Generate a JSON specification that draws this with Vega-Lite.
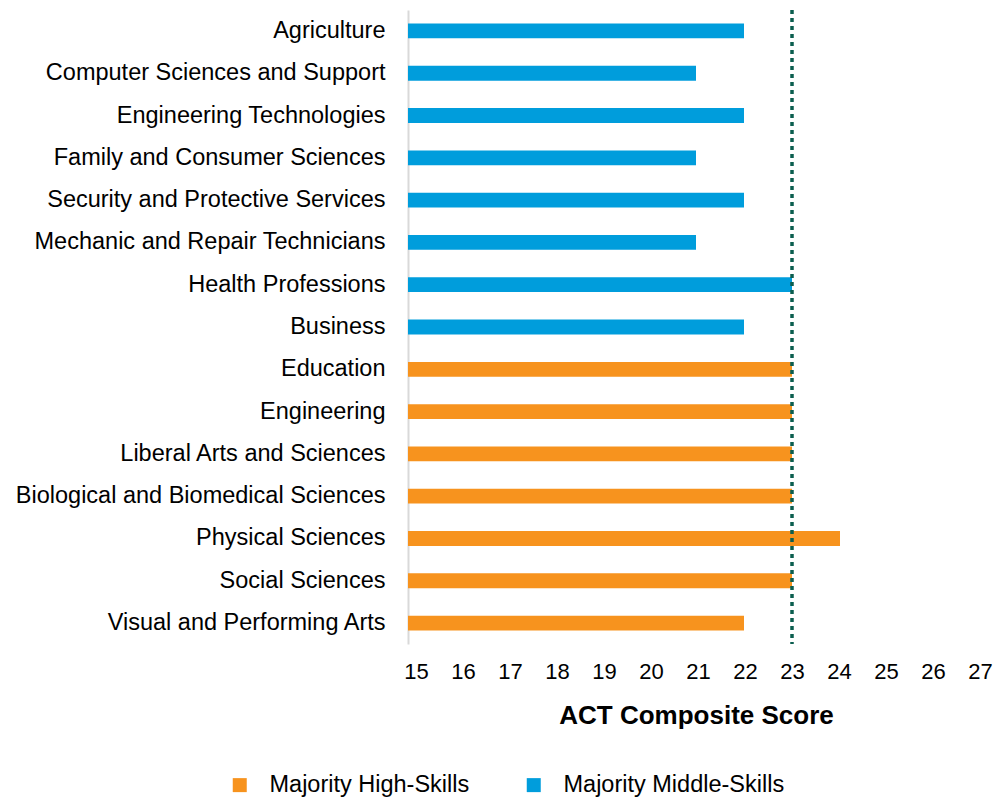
{
  "$schema": "https://vega.github.io/schema/vega-lite/v6.json",
  "width": 576,
  "height": 634,
  "autosize": "none",
  "padding": {"left": 408, "top": 10, "right": 11, "bottom": 156},
  "background": "white",
  "config": {
    "view": {"stroke": null},
    "font": "Liberation Sans"
  },
  "layer": [
    {
      "data": {
        "values": [
          {"field": "Agriculture", "score": 22, "group": "Majority Middle-Skills"},
          {"field": "Computer Sciences and Support", "score": 21, "group": "Majority Middle-Skills"},
          {"field": "Engineering Technologies", "score": 22, "group": "Majority Middle-Skills"},
          {"field": "Family and Consumer Sciences", "score": 21, "group": "Majority Middle-Skills"},
          {"field": "Security and Protective Services", "score": 22, "group": "Majority Middle-Skills"},
          {"field": "Mechanic and Repair Technicians", "score": 21, "group": "Majority Middle-Skills"},
          {"field": "Health Professions", "score": 23, "group": "Majority Middle-Skills"},
          {"field": "Business", "score": 22, "group": "Majority Middle-Skills"},
          {"field": "Education", "score": 23, "group": "Majority High-Skills"},
          {"field": "Engineering", "score": 23, "group": "Majority High-Skills"},
          {"field": "Liberal Arts and Sciences", "score": 23, "group": "Majority High-Skills"},
          {"field": "Biological and Biomedical Sciences", "score": 23, "group": "Majority High-Skills"},
          {"field": "Physical Sciences", "score": 24, "group": "Majority High-Skills"},
          {"field": "Social Sciences", "score": 23, "group": "Majority High-Skills"},
          {"field": "Visual and Performing Arts", "score": 22, "group": "Majority High-Skills"}
        ]
      },
      "mark": {"type": "bar"},
      "encoding": {
        "y": {
          "field": "field",
          "type": "nominal",
          "sort": null,
          "scale": {"paddingInner": 0.65, "paddingOuter": 0.32},
          "axis": {
            "title": null,
            "labelFontSize": 23.5,
            "labelColor": "#000000",
            "labelPadding": 23,
            "labelLimit": 500,
            "ticks": false,
            "domainColor": "#d9d9d9",
            "domainWidth": 2,
            "grid": false
          }
        },
        "x": {
          "field": "score",
          "type": "quantitative",
          "scale": {"domain": [15, 27], "zero": false, "nice": false},
          "axis": {
            "title": "ACT Composite Score",
            "titleFontSize": 26,
            "titleFontWeight": "bold",
            "titleColor": "#000000",
            "titlePadding": 20,
            "labelFontSize": 22,
            "labelColor": "#000000",
            "labelPadding": 17,
            "labelFlush": false,
            "labelOverlap": false,
            "labelOffset": {"expr": "8 - (datum.value - 15)"},
            "values": [15,16,17,18,19,20,21,22,23,24,25,26,27],
            "ticks": false,
            "domain": false,
            "grid": false
          }
        },
        "x2": {"datum": 15},
        "color": {
          "field": "group",
          "type": "nominal",
          "scale": {
            "domain": ["Majority High-Skills", "Majority Middle-Skills"],
            "range": ["#F7931E", "#009DDC"]
          },
          "legend": {
            "title": null,
            "orient": "none",
            "direction": "horizontal",
            "legendX": -180,
            "legendY": 763,
            "symbolType": "square",
            "symbolSize": 196,
            "symbolStrokeWidth": 0,
            "labelFontSize": 23.5,
            "labelColor": "#000000",
            "labelOffset": 18,
            "labelLimit": 400,
            "columnPadding": 52
          }
        }
      }
    },
    {
      "data": {"values": [{"avg": 23}]},
      "mark": {"type": "rule", "color": "#0B5E4F", "strokeWidth": 3.5, "strokeDash": [4, 4]},
      "encoding": {
        "x": {"field": "avg", "type": "quantitative"}
      }
    }
  ]
}
